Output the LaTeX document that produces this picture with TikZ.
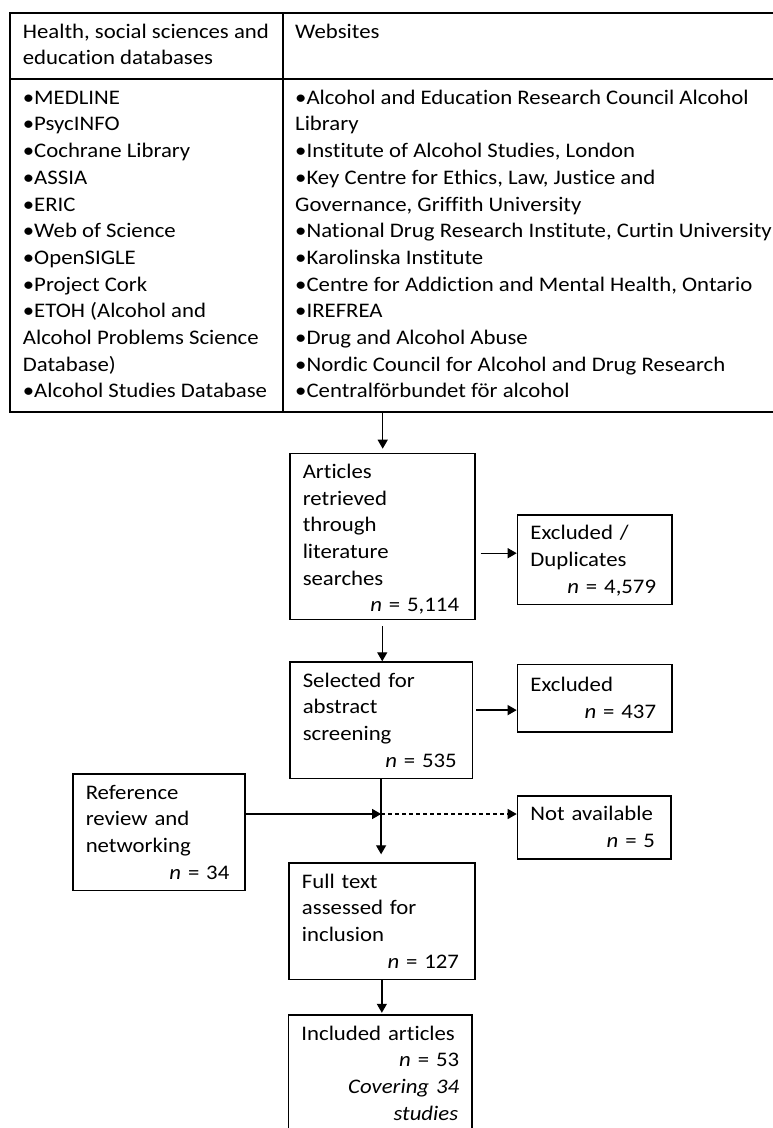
\documentclass[tikz,border=0pt]{standalone}
\usepackage{fontspec}
\setmainfont{Carlito}[FakeStretch=1.1, Ligatures=NoCommon]
\usetikzlibrary{arrows.meta}

\newcommand{\flowfont}{\fontsize{20.7}{26.7}\selectfont}
\newcommand{\topgap}{\rule{0pt}{25pt}}
\newcommand{\ncount}[2][11.5pt]{\hfill\textit{n} = #2\hspace*{2.7pt}\rule[-#1]{0pt}{#1}}

\tikzset{
  cell/.style={anchor=north west, inner sep=0pt, align=left, font=\flowfont},
  flowbox/.style={draw, line width=1.5pt, anchor=north west, inner xsep=13pt,
    inner ysep=0pt, align=left, font=\flowfont},
  tline/.style={line width=1.5pt},
  arr/.style={line width=1.3pt, -{Triangle[length=9pt,width=10pt]}},
}

\begin{document}
\begin{tikzpicture}[x=1pt, y=-1pt]
  \path[use as bounding box, clip] (0,0) rectangle (773,1128);

  % search sources
  \draw[tline] (10,13) rectangle (790,412);
  \draw[tline] (10,79) -- (790,79);
  \draw[tline] (283,13) -- (283,412);
  \node[cell] (dbhead) at (22.7,13) {\topgap Health, social sciences and\\education databases};
  \node[cell] (webhead) at (295,13) {\topgap Websites};
  \node[cell] (dblist) at (22.7,79) {\topgap •MEDLINE\\•PsycINFO\\•Cochrane Library\\•ASSIA\\•ERIC\\
    •Web of Science\\•OpenSIGLE\\•Project Cork\\•ETOH (Alcohol and\\
    Alcohol Problems Science\\Database)\\•Alcohol Studies Database};
  \node[cell] (weblist) at (295,79) {\topgap •Alcohol and Education Research Council Alcohol\\
    Library\\•Institute of Alcohol Studies, London\\•Key Centre for Ethics, Law, Justice and\\
    Governance, Griffith University\\•National Drug Research Institute, Curtin University\\
    •Karolinska Institute\\•Centre for Addiction and Mental Health, Ontario\\•IREFREA\\
    •Drug and Alcohol Abuse\\•Nordic Council for Alcohol and Drug Research\\
    •Centralförbundet för alcohol};
  \coordinate (tabfoot) at (382.7,412);

  % flow boxes
  \node[flowbox, text width=159pt] (found) at (289,452.7)
    {\topgap Articles\\retrieved\\through\\literature\\searches\\\ncount[7.7pt]{5,114}};
  \node[flowbox, text width=128.3pt] (dup) at (516.7,514)
    {\topgap Excluded /\\Duplicates\\\ncount{4,579}};
  \node[flowbox, text width=156.7pt] (screen) at (289,661.3)
    {\topgap Selected for\\abstract\\screening\\\ncount{535}};
  \node[flowbox, text width=128.3pt, minimum height=67.3pt] (excl) at (516.7,663.7)
    {\topgap Excluded\\\ncount{437}};
  \node[flowbox, text width=146.3pt] (ref) at (72,773.3)
    {\topgap Reference\\review and\\networking\\\ncount{34}};
  \node[flowbox, text width=127.3pt] (na) at (516.7,795)
    {\topgap Not available\\\ncount{5}};
  \node[flowbox, text width=159.8pt] (full) at (288.2,862.3)
    {\topgap Full text\\assessed for\\inclusion\\\ncount{127}};
  \node[flowbox, text width=157.7pt, minimum height=140pt] (incl) at (287.7,1014.3)
    {\topgap Included articles\\\hfill\textit{n} = 53\hspace*{2.7pt}\\
    \hfill\textit{Covering 34}\hspace*{1pt}\\\hfill\textit{studies}\hspace*{1pt}\rule[-40pt]{0pt}{40pt}};

  % connectors
  \coordinate (dupin) at ([yshift=6.5pt]dup.west);
  \coordinate (exclin) at ([yshift=-12pt]excl.west);
  \coordinate (join) at (screen.south |- 0,814);
  \draw[arr, shorten >=4pt] (tabfoot) -- (tabfoot |- found.north);
  \draw[arr, shorten <=5pt] (found.east |- dupin) -- (dupin);
  \draw[arr, shorten <=6pt] (found.south) -- (found.south |- screen.north);
  \draw[arr, shorten <=3pt] (screen.east |- exclin) -- (exclin);
  \draw[arr, shorten >=8pt] (screen.south) -- (screen.south |- full.north);
  \draw[arr] (ref.east |- join) -- (join);
  \draw[arr, dash pattern=on 4pt off 3pt] (join) -- (join -| na.west);
  \draw[arr, shorten >=1.5pt] (full.south) -- (full.south |- incl.north);
\end{tikzpicture}
\end{document}
